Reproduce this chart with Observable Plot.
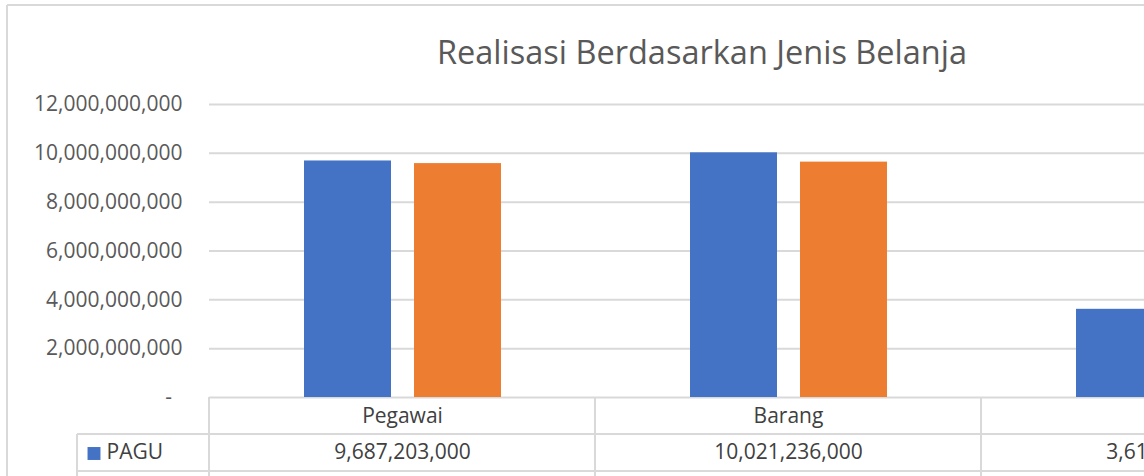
<!DOCTYPE html>
<html><head><meta charset="utf-8">
<script src="https://cdn.jsdelivr.net/npm/d3@7"></script>
<script src="https://cdn.jsdelivr.net/npm/@observablehq/plot@0.6"></script>
<style>
html,body{margin:0;padding:0;background:#fff;overflow:hidden;}
#chart{width:1144px;height:476px;overflow:hidden;}
#chart svg{display:block;overflow:hidden;max-width:none;}
</style>
</head><body><div id="chart"></div>
<script>
const chartTitle = "Realisasi Berdasarkan Jenis Belanja";
const categories = ["Pegawai", "Barang", "Modal"];
const seriesNames = ["PAGU", "REALISASI"];
const paguValues = [9687203000, 10021236000, 3612000000];
const realisasiValues = [9580000000, 9640000000, 3400000000];
const yTicks = [0, 2e9, 4e9, 6e9, 8e9, 10e9, 12e9];
const seriesColors = ["#4472C4", "#ED7D31"];

const fmt = d3.format(",");
const data = categories.flatMap((c, i) => [
  {category: c, series: seriesNames[0], value: paguValues[i]},
  {category: c, series: seriesNames[1], value: realisasiValues[i]}
]);

const gridColor = "#d9d9d9";

function tableLines(index, scales, values, dims) {
  const g = d3.create("svg:g").attr("fill", "none").attr("stroke", gridColor).attr("stroke-width", 2);
  const W = dims.width, H = dims.height;
  const base = H - dims.marginBottom;
  const x = scales.x;
  const step = x.step ? x.step() : (x(categories[1]) - x(categories[0]));
  const edges = categories.map(c => x(c));
  edges.push(x(categories[categories.length - 1]) + step);
  // outer chart border
  g.append("line").attr("x1", 7).attr("x2", 7).attr("y1", 5).attr("y2", H);
  g.append("line").attr("x1", 7).attr("x2", W).attr("y1", 5).attr("y2", 5);
  // table horizontal lines
  g.append("line").attr("x1", 77).attr("x2", W).attr("y1", base + 37).attr("y2", base + 37);
  g.append("line").attr("x1", 77).attr("x2", W).attr("y1", base + 74).attr("y2", base + 74);
  // table vertical lines
  for (const e of edges) g.append("line").attr("x1", e).attr("x2", e).attr("y1", base).attr("y2", H);
  g.append("line").attr("x1", 77).attr("x2", 77).attr("y1", base + 37).attr("y2", H);
  return g.node();
}

const plot = Plot.plot({
  width: 1144, height: 476,
  marginLeft: 209, marginRight: 0, marginTop: 104, marginBottom: 79,
  style: {fontFamily: '"Open Sans", sans-serif', fontSize: "21px", color: "#595959", background: "#fff"},
  x: {type: "band", domain: categories, range: [209, 1367], padding: 0, axis: null},
  y: {domain: [0, 12e9], ticks: yTicks, tickSize: 0, tickPadding: 27, label: null,
      tickFormat: d => d === 0 ? "-\u2002" : fmt(d)},
  color: {domain: seriesNames, range: seriesColors},
  marks: [
    Plot.ruleY(yTicks, {stroke: gridColor, strokeWidth: 2}),
    tableLines,
    Plot.barY(data.filter(d => d.series === seriesNames[0]), {x: "category", y: "value", fill: "series", insetLeft: 95, insetRight: 204}),
    Plot.barY(data.filter(d => d.series === seriesNames[1]), {x: "category", y: "value", fill: "series", insetLeft: 205, insetRight: 94}),
    Plot.text([chartTitle], {text: d => d, frameAnchor: "top", dx: 25, dy: -64, fontSize: 32.5, fill: "#595959"}),
    Plot.text(categories, {x: d => d, text: d => d, frameAnchor: "bottom", dy: 25, fill: "#404040"}),
    Plot.text(categories, {x: d => d, text: (d, i) => fmt(paguValues[i]), frameAnchor: "bottom", dy: 61, fill: "#404040"}),
    Plot.dot([seriesNames[0]], {frameAnchor: "bottom-left", dx: -115.5, dy: 56, symbol: "square", r: 7.3, fill: d => d, stroke: null}),
    Plot.text([seriesNames[0]], {text: d => d, frameAnchor: "bottom-left", dx: -103, dy: 61, textAnchor: "start", fill: "#404040"})
  ]
});
document.getElementById("chart").append(plot);
</script>
</body></html>
